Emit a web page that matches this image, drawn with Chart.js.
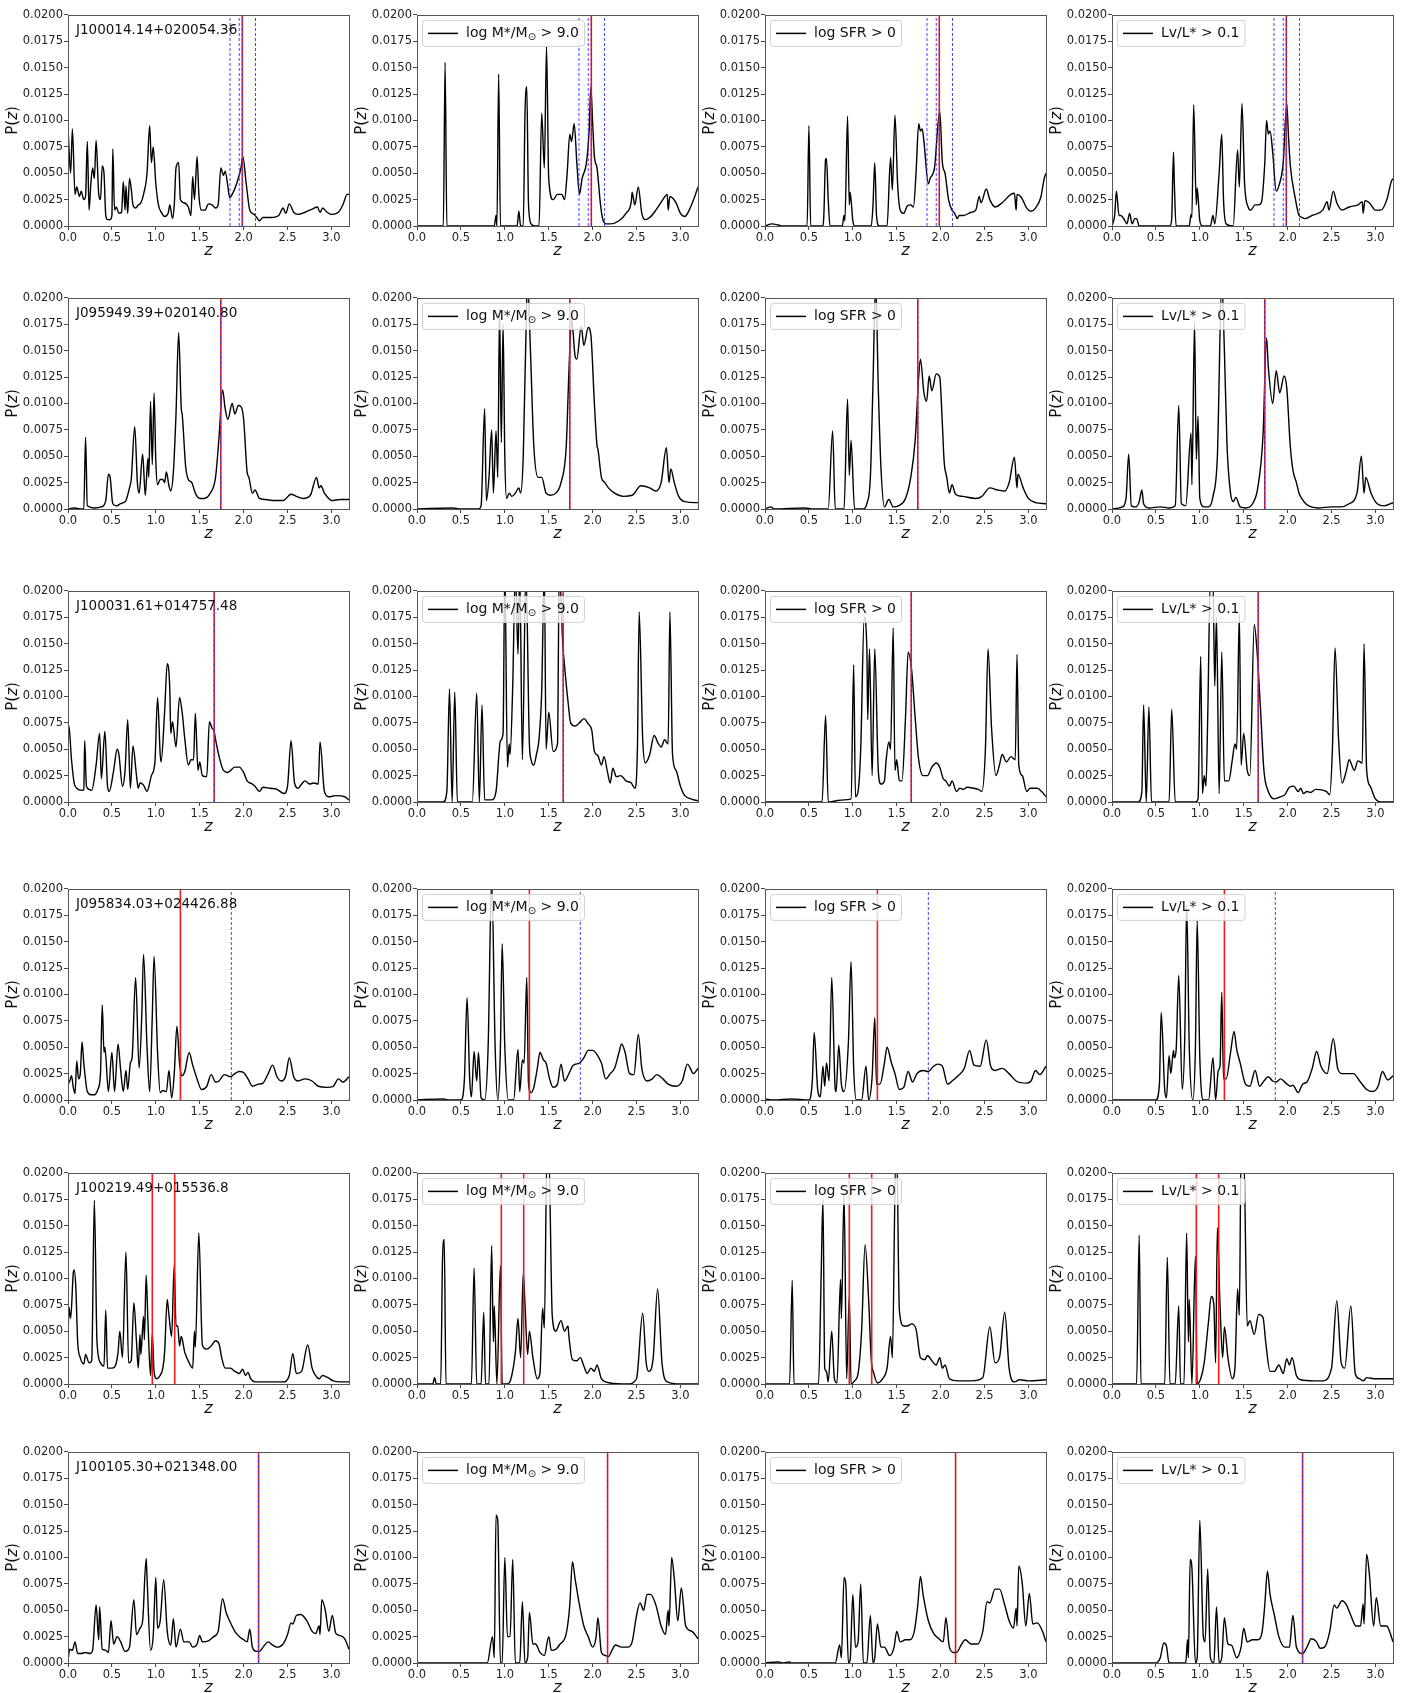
<!DOCTYPE html>
<html>
<head>
<meta charset="utf-8">
<script src="https://cdn.jsdelivr.net/npm/chart.js@4.4.0/dist/chart.umd.min.js"></script>
<style>
  body { margin: 0; background: #fff; }
  #page { position: relative; width: 1406px; height: 1693px; }
  #page canvas { position: absolute; }
</style>
</head>
<body>
<div id="page"></div>
<script>
// axis ticks
var zTicks = [0, 0.5, 1.0, 1.5, 2.0, 2.5, 3.0];
var pTicks = [0, 0.0025, 0.005, 0.0075, 0.01, 0.0125, 0.015, 0.0175, 0.02];

var objectNames = ["J100014.14+020054.36", "J095949.39+020140.80", "J100031.61+014757.48",
  "J095834.03+024426.88", "J100219.49+015536.8", "J100105.30+021348.00"];
// legend text parts: [text, isSubscript]
var sampleLabels = [null,
  [["log M*/M", 0], ["\u2299", 1], [" > 9.0", 0]],
  [["log SFR > 0", 0]],
  [["Lv/L* > 0.1", 0]]];

// red solid = spectroscopic z, blue dashed = other estimates
var zRed = [[1.985], [1.74], [1.665], [1.28], [0.96, 1.215], [2.17]];
var zBlue = [[1.845, 1.95, 1.985, 2.135], [1.74], [1.665], [1.86], [], [2.17]];

// ---- row 1 : J100014.14+020054.36
var pz1All = [[0,0.0093],[0.03,0.005],[0.05,0.0092],[0.08,0.003],[0.1,0.0037],[0.13,0.0028],[0.15,0.0033],[0.18,0.0025],[0.2,0.0028],[0.22,0.008],[0.24,0.0015],[0.26,0.004],[0.28,0.0055],[0.3,0.0045],[0.32,0.0081],[0.35,0.003],[0.37,0.0025],[0.39,0.0057],[0.41,0.005],[0.43,0.001],[0.45,0.0006],[0.48,0.0006],[0.5,0.001],[0.51,0.0073],[0.53,0.0015],[0.55,0.0018],[0.58,0.0012],[0.61,0.0013],[0.63,0.0042],[0.65,0.0015],[0.66,0.0038],[0.68,0.0012],[0.7,0.0045],[0.72,0.0035],[0.74,0.002],[0.77,0.0017],[0.8,0.002],[0.83,0.0022],[0.86,0.003],[0.9,0.005],[0.93,0.0095],[0.95,0.006],[0.97,0.0075],[1.0,0.004],[1.03,0.002],[1.07,0.0012],[1.1,0.0009],[1.14,0.0012],[1.16,0.002],[1.19,0.0007],[1.21,0.002],[1.23,0.0055],[1.26,0.006],[1.28,0.0025],[1.32,0.0022],[1.37,0.0018],[1.4,0.001],[1.42,0.0047],[1.44,0.0025],[1.47,0.0066],[1.49,0.003],[1.52,0.0015],[1.56,0.0015],[1.6,0.0021],[1.64,0.002],[1.68,0.0017],[1.71,0.002],[1.74,0.0055],[1.77,0.0048],[1.79,0.0052],[1.82,0.0038],[1.84,0.0027],[1.87,0.003],[1.92,0.004],[1.97,0.0055],[1.99,0.0066],[2.03,0.004],[2.07,0.0015],[2.12,0.0011],[2.15,0.0008],[2.18,0.0005],[2.22,0.0008],[2.3,0.0008],[2.4,0.001],[2.45,0.0017],[2.48,0.0012],[2.52,0.0021],[2.57,0.0013],[2.62,0.0011],[2.7,0.0013],[2.78,0.0016],[2.84,0.0018],[2.87,0.0013],[2.9,0.0017],[2.95,0.0013],[3.0,0.0011],[3.08,0.0013],[3.13,0.002],[3.18,0.003],[3.2,0.003]];
var pz1Mass = [[0,0],[0.3,0],[0.32,0.0155],[0.34,0],[0.88,0],[0.9,0.001],[0.91,0],[0.93,0.0144],[0.95,0],[1.14,0],[1.16,0.0014],[1.18,0],[1.21,0],[1.23,0.0107],[1.25,0.0132],[1.27,0.002],[1.3,0.0002],[1.34,0],[1.39,0],[1.42,0.0107],[1.45,0.0055],[1.475,0.017],[1.5,0.0045],[1.55,0.0025],[1.6,0.003],[1.65,0.003],[1.68,0.0025],[1.71,0.005],[1.74,0.0087],[1.76,0.008],[1.79,0.0097],[1.82,0.006],[1.85,0.003],[1.88,0.0045],[1.93,0.006],[1.96,0.009],[1.98,0.0132],[2.0,0.0098],[2.02,0.0066],[2.05,0.0055],[2.09,0.002],[2.12,0.0005],[2.16,0.0002],[2.2,0.0002],[2.3,0.0005],[2.38,0.0012],[2.44,0.0023],[2.45,0.0032],[2.48,0.002],[2.52,0.0037],[2.56,0.0012],[2.6,0.0006],[2.65,0.0008],[2.72,0.0015],[2.8,0.0025],[2.85,0.003],[2.86,0.0015],[2.88,0.0028],[2.95,0.0022],[3.0,0.0012],[3.05,0.0009],[3.1,0.0015],[3.15,0.0025],[3.2,0.0037]];
var pz1Sfr = [[0,0],[0.08,0.0002],[0.15,0.0001],[0.2,0],[0.48,0],[0.5,0.0095],[0.52,0],[0.66,0],[0.67,0.001],[0.69,0.0063],[0.7,0.0064],[0.72,0.0025],[0.74,0],[0.88,0],[0.9,0.001],[0.91,0.0005],[0.94,0.0104],[0.96,0.002],[0.97,0.0032],[1.0,0.0005],[1.02,0],[1.21,0],[1.23,0.002],[1.25,0.006],[1.27,0.001],[1.3,0],[1.39,0],[1.43,0.0065],[1.45,0.0034],[1.48,0.0105],[1.51,0.004],[1.54,0.0015],[1.58,0.0012],[1.62,0.0019],[1.66,0.002],[1.69,0.0018],[1.72,0.005],[1.75,0.0097],[1.77,0.009],[1.79,0.0092],[1.81,0.008],[1.86,0.004],[1.88,0.0045],[1.93,0.0055],[1.99,0.0109],[2.02,0.006],[2.05,0.005],[2.09,0.0025],[2.13,0.0015],[2.16,0.0012],[2.19,0.0007],[2.21,0.001],[2.26,0.001],[2.35,0.0013],[2.4,0.0015],[2.44,0.0028],[2.46,0.0022],[2.52,0.0035],[2.56,0.0025],[2.62,0.0018],[2.7,0.0022],[2.8,0.003],[2.84,0.0031],[2.86,0.0015],[2.87,0.003],[2.92,0.0027],[2.98,0.0017],[3.03,0.0014],[3.08,0.0017],[3.14,0.0027],[3.18,0.0045],[3.2,0.005]];
var pz1Lum = [[0,0],[0.03,0.001],[0.05,0.0033],[0.08,0.001],[0.1,0.001],[0.14,0.0006],[0.17,0.0002],[0.2,0.0012],[0.23,0.0002],[0.26,0.0007],[0.28,0.0007],[0.31,0],[0.66,0],[0.68,0.0007],[0.7,0.007],[0.71,0.004],[0.73,0],[0.88,0],[0.9,0.0011],[0.91,0.0008],[0.93,0.0115],[0.96,0.002],[0.97,0.0036],[1.0,0.0005],[1.03,0],[1.12,0],[1.15,0.001],[1.17,0.0002],[1.22,0.005],[1.25,0.0087],[1.27,0.0025],[1.3,0.0002],[1.38,0],[1.43,0.0072],[1.45,0.0037],[1.48,0.0116],[1.51,0.004],[1.55,0.0018],[1.58,0.0015],[1.63,0.002],[1.67,0.002],[1.7,0.0022],[1.74,0.006],[1.76,0.01],[1.78,0.0087],[1.8,0.009],[1.83,0.007],[1.87,0.0033],[1.9,0.0038],[1.95,0.006],[1.99,0.0116],[2.01,0.0085],[2.03,0.0058],[2.09,0.0025],[2.13,0.001],[2.17,0.0008],[2.2,0.0007],[2.28,0.001],[2.4,0.0015],[2.45,0.0023],[2.47,0.0015],[2.52,0.0033],[2.56,0.0022],[2.62,0.0015],[2.7,0.0018],[2.8,0.002],[2.85,0.0023],[2.86,0.0012],[2.88,0.0024],[2.93,0.0022],[3.0,0.0015],[3.06,0.0015],[3.13,0.0025],[3.18,0.0042],[3.2,0.0045]];

// ---- row 2 : J095949.39+020140.80
var pz2All = [[0,0],[0.07,0.0001],[0.15,0],[0.18,0],[0.2,0.0068],[0.22,0.0003],[0.3,0.0001],[0.38,0.0002],[0.43,0.0008],[0.46,0.0033],[0.48,0.003],[0.51,0.0005],[0.55,0.0003],[0.6,0.0005],[0.63,0.0006],[0.66,0.0008],[0.7,0.002],[0.72,0.0028],[0.76,0.0078],[0.79,0.0025],[0.81,0.0015],[0.85,0.0052],[0.88,0.0013],[0.91,0.0048],[0.92,0.003],[0.94,0.0102],[0.96,0.0042],[0.98,0.011],[1.0,0.0045],[1.02,0.0023],[1.05,0.0028],[1.08,0.0028],[1.1,0.0025],[1.12,0.0035],[1.15,0.0022],[1.17,0.0017],[1.2,0.0035],[1.23,0.009],[1.26,0.0167],[1.29,0.0095],[1.3,0.009],[1.34,0.004],[1.37,0.0028],[1.41,0.0025],[1.45,0.0015],[1.5,0.001],[1.55,0.001],[1.62,0.0015],[1.68,0.003],[1.72,0.0068],[1.76,0.0113],[1.79,0.0095],[1.82,0.0085],[1.87,0.01],[1.9,0.009],[1.94,0.0098],[1.97,0.0097],[2.0,0.0085],[2.04,0.0035],[2.06,0.003],[2.1,0.0015],[2.13,0.0018],[2.18,0.001],[2.25,0.0009],[2.35,0.0008],[2.45,0.0008],[2.54,0.0014],[2.6,0.0012],[2.68,0.001],[2.76,0.0013],[2.83,0.003],[2.86,0.002],[2.88,0.0022],[2.92,0.0015],[2.97,0.001],[3.0,0.0008],[3.1,0.0009],[3.2,0.0009]];
var pz2Mass = [[0,0],[0.4,0.0001],[0.5,0],[0.7,0],[0.73,0.0003],[0.77,0.0095],[0.79,0.0008],[0.82,0.003],[0.85,0.0075],[0.87,0.0015],[0.9,0.0074],[0.92,0.003],[0.94,0.019],[0.96,0.0063],[0.98,0.0175],[1.0,0.005],[1.02,0.001],[1.05,0.0015],[1.08,0.0012],[1.12,0.0015],[1.16,0.002],[1.18,0.0015],[1.21,0.005],[1.25,0.02],[1.26,0.0215],[1.29,0.0155],[1.33,0.006],[1.38,0.003],[1.42,0.003],[1.47,0.0015],[1.52,0.0013],[1.58,0.0015],[1.64,0.0025],[1.7,0.006],[1.73,0.013],[1.76,0.018],[1.8,0.0145],[1.82,0.0142],[1.87,0.0173],[1.9,0.0155],[1.95,0.0172],[1.98,0.0165],[2.02,0.01],[2.05,0.006],[2.06,0.0057],[2.1,0.003],[2.14,0.0025],[2.18,0.002],[2.25,0.0015],[2.35,0.0012],[2.45,0.0013],[2.55,0.0022],[2.65,0.002],[2.72,0.0017],[2.78,0.0025],[2.84,0.0058],[2.87,0.0025],[2.89,0.0038],[2.93,0.0025],[2.98,0.0012],[3.05,0.0007],[3.2,0.0006]];
var pz2Sfr = [[0,0],[0.07,0.0002],[0.1,0],[0.45,0.0001],[0.55,0],[0.72,0],[0.77,0.0074],[0.8,0],[0.9,0],[0.94,0.0104],[0.96,0.0032],[0.98,0.0065],[1.02,0],[1.12,0],[1.16,0.0005],[1.2,0.003],[1.23,0.012],[1.26,0.0215],[1.29,0.0115],[1.32,0.004],[1.36,0.0002],[1.41,0.0009],[1.46,0.0002],[1.52,0.0003],[1.6,0.001],[1.66,0.003],[1.71,0.0065],[1.75,0.0125],[1.77,0.0142],[1.81,0.011],[1.84,0.0102],[1.87,0.0126],[1.9,0.0112],[1.95,0.0128],[1.99,0.0125],[2.02,0.008],[2.04,0.0045],[2.07,0.003],[2.1,0.0015],[2.13,0.0023],[2.17,0.0014],[2.25,0.0012],[2.4,0.001],[2.47,0.0012],[2.56,0.002],[2.65,0.0018],[2.73,0.0017],[2.78,0.0025],[2.84,0.0049],[2.87,0.002],[2.88,0.0033],[2.94,0.002],[3.0,0.001],[3.08,0.0006],[3.2,0.0005]];
var pz2Lum = [[0,0],[0.12,0.0002],[0.16,0.001],[0.19,0.0052],[0.22,0.0003],[0.27,0.0002],[0.31,0.0007],[0.34,0.0018],[0.36,0.0005],[0.42,0.0001],[0.55,0.0002],[0.65,0.0001],[0.72,0.0003],[0.76,0.0098],[0.79,0.0005],[0.84,0.0003],[0.9,0.0072],[0.91,0.0023],[0.94,0.0177],[0.96,0.0047],[0.98,0.0088],[1.0,0.001],[1.05,0.0002],[1.1,0.0002],[1.15,0.0012],[1.2,0.005],[1.25,0.0215],[1.28,0.015],[1.31,0.006],[1.35,0.0015],[1.38,0.0007],[1.41,0.0011],[1.46,0.0002],[1.52,0.0001],[1.6,0.0005],[1.66,0.002],[1.72,0.007],[1.76,0.0162],[1.78,0.0135],[1.83,0.01],[1.87,0.0131],[1.91,0.011],[1.96,0.0126],[1.99,0.0115],[2.03,0.006],[2.06,0.0037],[2.1,0.0025],[2.13,0.0015],[2.16,0.001],[2.22,0.0004],[2.35,0.0001],[2.5,0.0002],[2.6,0.0002],[2.7,0.0005],[2.79,0.0015],[2.84,0.005],[2.87,0.0015],[2.89,0.003],[2.95,0.0015],[3.02,0.0005],[3.1,0.0003],[3.2,0.0006]];

// ---- row 3 : J100031.61+014757.48
var pz3All = [[0,0.007],[0.01,0.0072],[0.04,0.004],[0.07,0.0018],[0.1,0.0013],[0.16,0.0011],[0.18,0.0012],[0.19,0.0058],[0.21,0.0015],[0.24,0.0012],[0.27,0.0011],[0.32,0.0035],[0.36,0.0065],[0.38,0.0022],[0.42,0.0067],[0.45,0.0015],[0.47,0.001],[0.52,0.003],[0.56,0.005],[0.58,0.0045],[0.62,0.0015],[0.65,0.003],[0.68,0.0078],[0.71,0.0013],[0.74,0.0053],[0.78,0.0025],[0.8,0.0013],[0.82,0.0018],[0.86,0.0016],[0.9,0.001],[0.95,0.0025],[0.99,0.0038],[1.02,0.0099],[1.05,0.0045],[1.06,0.0038],[1.1,0.0085],[1.13,0.0131],[1.16,0.0105],[1.17,0.0065],[1.19,0.0076],[1.23,0.0052],[1.27,0.0099],[1.3,0.0085],[1.33,0.006],[1.37,0.0035],[1.4,0.004],[1.43,0.004],[1.45,0.0084],[1.48,0.003],[1.5,0.0038],[1.53,0.0025],[1.58,0.0024],[1.61,0.0076],[1.64,0.007],[1.66,0.0068],[1.69,0.0055],[1.73,0.004],[1.77,0.003],[1.82,0.0028],[1.9,0.0033],[1.95,0.0033],[2.0,0.0028],[2.04,0.002],[2.1,0.0017],[2.13,0.0015],[2.18,0.001],[2.22,0.0014],[2.3,0.0013],[2.38,0.0012],[2.46,0.0008],[2.5,0.0015],[2.54,0.0058],[2.58,0.0018],[2.62,0.0013],[2.66,0.0017],[2.7,0.002],[2.75,0.0017],[2.8,0.0018],[2.85,0.0017],[2.87,0.0057],[2.92,0.001],[2.97,0.0005],[3.05,0.0006],[3.15,0.0005],[3.2,0.0002]];
var pz3Mass = [[0,0],[0.3,0],[0.34,0.001],[0.37,0.0107],[0.4,0],[0.43,0.0104],[0.46,0],[0.63,0],[0.68,0.0103],[0.71,0],[0.74,0.0092],[0.77,0.0002],[0.85,0.0002],[0.9,0.001],[0.95,0.0058],[0.98,0.0065],[1.0,0.022],[1.03,0.0033],[1.05,0.0055],[1.06,0.0045],[1.09,0.011],[1.12,0.022],[1.15,0.014],[1.17,0.022],[1.2,0.004],[1.24,0.022],[1.28,0.0055],[1.3,0.004],[1.33,0.0035],[1.36,0.0045],[1.39,0.006],[1.42,0.0105],[1.45,0.022],[1.47,0.005],[1.5,0.0085],[1.55,0.0048],[1.6,0.0055],[1.62,0.022],[1.66,0.015],[1.69,0.012],[1.72,0.0095],[1.75,0.0075],[1.8,0.0072],[1.85,0.0075],[1.9,0.0079],[1.95,0.0074],[1.99,0.0068],[2.02,0.0048],[2.06,0.0044],[2.1,0.0035],[2.13,0.0043],[2.17,0.0028],[2.2,0.0018],[2.23,0.0032],[2.27,0.0024],[2.32,0.0025],[2.38,0.002],[2.44,0.0018],[2.48,0.0013],[2.51,0.005],[2.53,0.018],[2.57,0.006],[2.6,0.0037],[2.65,0.0045],[2.7,0.0063],[2.75,0.0055],[2.78,0.0052],[2.82,0.0059],[2.86,0.0055],[2.88,0.018],[2.91,0.0045],[2.95,0.003],[3.0,0.0015],[3.05,0.0006],[3.12,0.0003],[3.2,0.0001]];
var pz3Sfr = [[0,0],[0.65,0],[0.69,0.0082],[0.72,0],[0.8,0.0001],[0.9,0.0002],[0.98,0.0003],[1.01,0.013],[1.03,0.0005],[1.06,0.001],[1.09,0.005],[1.13,0.0175],[1.16,0.0145],[1.17,0.0078],[1.19,0.0145],[1.22,0.0025],[1.25,0.0145],[1.29,0.003],[1.32,0.0017],[1.36,0.002],[1.38,0.004],[1.41,0.0057],[1.43,0.005],[1.46,0.0165],[1.48,0.003],[1.5,0.004],[1.53,0.002],[1.56,0.002],[1.6,0.008],[1.63,0.0142],[1.67,0.0125],[1.71,0.008],[1.75,0.004],[1.8,0.0025],[1.85,0.0025],[1.9,0.0033],[1.95,0.0037],[1.99,0.0033],[2.03,0.0022],[2.06,0.002],[2.1,0.0015],[2.13,0.002],[2.18,0.001],[2.22,0.0013],[2.26,0.0012],[2.3,0.0014],[2.38,0.0013],[2.43,0.0012],[2.47,0.001],[2.51,0.005],[2.54,0.0145],[2.58,0.007],[2.63,0.0025],[2.67,0.0035],[2.7,0.0045],[2.75,0.0038],[2.8,0.0043],[2.85,0.004],[2.87,0.014],[2.89,0.0035],[2.93,0.0025],[2.98,0.001],[3.02,0.0013],[3.1,0.0013],[3.15,0.001],[3.2,0.0005]];
var pz3Lum = [[0,0],[0.3,0],[0.34,0.001],[0.36,0.0092],[0.39,0],[0.42,0.009],[0.45,0],[0.65,0],[0.68,0.0088],[0.72,0],[0.95,0],[0.98,0.0003],[1.01,0.0138],[1.03,0.0008],[1.05,0.0025],[1.07,0.0015],[1.09,0.008],[1.12,0.021],[1.15,0.021],[1.17,0.011],[1.19,0.0175],[1.22,0.0008],[1.25,0.0142],[1.28,0.002],[1.33,0.002],[1.37,0.004],[1.4,0.0055],[1.42,0.005],[1.45,0.0178],[1.47,0.0035],[1.5,0.0065],[1.54,0.003],[1.57,0.0025],[1.62,0.0168],[1.65,0.0145],[1.69,0.009],[1.73,0.003],[1.78,0.001],[1.85,0.0003],[1.92,0.0005],[1.97,0.0007],[2.02,0.0014],[2.07,0.0015],[2.12,0.001],[2.15,0.0013],[2.18,0.0008],[2.22,0.001],[2.26,0.0009],[2.32,0.0012],[2.44,0.001],[2.48,0.0007],[2.51,0.005],[2.54,0.0146],[2.58,0.006],[2.62,0.0018],[2.67,0.003],[2.7,0.004],[2.76,0.003],[2.8,0.0039],[2.85,0.0037],[2.87,0.015],[2.9,0.003],[2.94,0.0015],[3.0,0.0003],[3.08,0],[3.2,0]];

// ---- row 4 : J095834.03+024426.88
var pz4All = [[0,0.0015],[0.02,0.0018],[0.04,0.0023],[0.06,0.0012],[0.08,0.0006],[0.1,0.0037],[0.12,0.002],[0.14,0.0025],[0.16,0.0055],[0.18,0.0035],[0.22,0.0008],[0.26,0.0005],[0.3,0.0005],[0.34,0.001],[0.37,0.0025],[0.39,0.009],[0.41,0.0045],[0.42,0.005],[0.46,0.0008],[0.5,0.0045],[0.53,0.0008],[0.57,0.0053],[0.6,0.0028],[0.63,0.0008],[0.66,0.0028],[0.68,0.001],[0.71,0.0035],[0.73,0.004],[0.77,0.0116],[0.81,0.003],[0.84,0.008],[0.86,0.0138],[0.9,0.005],[0.93,0.0008],[0.96,0.008],[0.98,0.0136],[1.02,0.0045],[1.05,0.0007],[1.08,0.0009],[1.12,0.0008],[1.15,0.0028],[1.18,0.0002],[1.21,0.0025],[1.24,0.007],[1.27,0.0035],[1.3,0.0023],[1.33,0.0027],[1.38,0.0045],[1.42,0.0033],[1.47,0.002],[1.52,0.001],[1.58,0.0013],[1.63,0.0024],[1.68,0.0017],[1.72,0.0018],[1.78,0.0024],[1.85,0.0022],[1.9,0.0025],[1.95,0.0027],[2.0,0.0026],[2.05,0.002],[2.1,0.0013],[2.17,0.0015],[2.22,0.0016],[2.28,0.0025],[2.33,0.0033],[2.38,0.0022],[2.43,0.0018],[2.48,0.0023],[2.52,0.004],[2.57,0.0022],[2.62,0.0018],[2.7,0.002],[2.78,0.0018],[2.85,0.0013],[2.95,0.0012],[3.02,0.0013],[3.08,0.002],[3.13,0.0017],[3.2,0.0022]];
var pz4Mass = [[0,0],[0.3,0.0001],[0.35,0],[0.5,0],[0.54,0.002],[0.57,0.0097],[0.6,0.002],[0.62,0.0003],[0.65,0.0046],[0.68,0.0018],[0.7,0.0045],[0.73,0.0002],[0.77,0],[0.81,0.005],[0.85,0.021],[0.89,0.005],[0.92,0],[0.95,0.005],[0.97,0.0148],[1.0,0.005],[1.04,0],[1.1,0],[1.15,0.0048],[1.17,0.0008],[1.2,0.0038],[1.22,0.0035],[1.25,0.0116],[1.27,0.0015],[1.3,0.0007],[1.33,0.0012],[1.37,0.003],[1.4,0.0045],[1.44,0.0038],[1.47,0.0035],[1.51,0.002],[1.55,0.0012],[1.6,0.0015],[1.64,0.0034],[1.68,0.0018],[1.73,0.0025],[1.78,0.0033],[1.85,0.0035],[1.9,0.004],[1.95,0.0047],[2.0,0.0047],[2.05,0.0043],[2.1,0.0035],[2.15,0.002],[2.2,0.0025],[2.25,0.003],[2.3,0.0045],[2.33,0.0053],[2.37,0.0045],[2.42,0.0025],[2.47,0.0024],[2.52,0.0062],[2.56,0.003],[2.62,0.0018],[2.68,0.002],[2.73,0.0024],[2.8,0.002],[2.86,0.0015],[2.95,0.0013],[3.02,0.0018],[3.08,0.0034],[3.15,0.0025],[3.2,0.003]];
var pz4Sfr = [[0,0.0001],[0.1,0],[0.3,0.0001],[0.5,0],[0.54,0.002],[0.56,0.0064],[0.6,0.001],[0.63,0.0003],[0.66,0.0032],[0.68,0.0013],[0.7,0.0035],[0.73,0.0018],[0.76,0.0116],[0.8,0.001],[0.81,0.0008],[0.84,0.0052],[0.87,0.0015],[0.9,0.0008],[0.95,0.0055],[0.98,0.0131],[1.01,0.003],[1.04,0],[1.1,0],[1.15,0.0032],[1.18,0],[1.22,0.0022],[1.25,0.0078],[1.27,0.0015],[1.31,0.0015],[1.36,0.0035],[1.39,0.005],[1.44,0.0035],[1.48,0.0025],[1.53,0.001],[1.58,0.0012],[1.63,0.0027],[1.68,0.0017],[1.73,0.0025],[1.8,0.0028],[1.86,0.0027],[1.92,0.0032],[1.97,0.0034],[2.02,0.0032],[2.08,0.0015],[2.13,0.0018],[2.2,0.0023],[2.27,0.003],[2.33,0.0047],[2.38,0.0033],[2.45,0.0032],[2.52,0.0057],[2.57,0.0032],[2.62,0.0028],[2.7,0.003],[2.78,0.0025],[2.86,0.0018],[2.98,0.0016],[3.03,0.0018],[3.08,0.0028],[3.13,0.0024],[3.2,0.0032]];
var pz4Lum = [[0,0],[0.3,0],[0.5,0],[0.54,0.0015],[0.56,0.0083],[0.6,0.001],[0.62,0.0002],[0.65,0.0042],[0.67,0.0025],[0.7,0.0047],[0.71,0.004],[0.73,0.0047],[0.76,0.0118],[0.8,0.001],[0.83,0.0065],[0.85,0.0185],[0.88,0.005],[0.92,0],[0.95,0.005],[0.97,0.017],[1.0,0.004],[1.04,0],[1.1,0],[1.15,0.004],[1.18,0],[1.21,0.0028],[1.23,0.0032],[1.25,0.0102],[1.27,0.002],[1.3,0.002],[1.35,0.0045],[1.39,0.0065],[1.42,0.0048],[1.46,0.0035],[1.52,0.0015],[1.57,0.0013],[1.63,0.0028],[1.68,0.0013],[1.73,0.0018],[1.78,0.0022],[1.83,0.0018],[1.87,0.0017],[1.92,0.002],[1.98,0.0016],[2.03,0.0013],[2.06,0.0014],[2.12,0.0007],[2.17,0.0015],[2.22,0.0017],[2.28,0.003],[2.33,0.0046],[2.38,0.0032],[2.45,0.0025],[2.52,0.0058],[2.57,0.003],[2.62,0.0025],[2.7,0.0025],[2.75,0.0025],[2.82,0.0018],[2.9,0.001],[2.97,0.0008],[3.03,0.0013],[3.08,0.0027],[3.14,0.0019],[3.2,0.0023]];

// ---- row 5 : J100219.49+015536.8
var pz5All = [[0,0.004],[0.01,0.0073],[0.03,0.0062],[0.06,0.0105],[0.07,0.0108],[0.09,0.009],[0.11,0.004],[0.14,0.0025],[0.18,0.0019],[0.2,0.0028],[0.24,0.002],[0.27,0.0022],[0.3,0.0174],[0.33,0.004],[0.37,0.002],[0.41,0.0017],[0.43,0.007],[0.45,0.0015],[0.5,0.0015],[0.53,0.0016],[0.57,0.003],[0.59,0.005],[0.62,0.0025],[0.66,0.0125],[0.69,0.002],[0.72,0.0022],[0.75,0.0077],[0.78,0.004],[0.8,0.0015],[0.82,0.0047],[0.83,0.0028],[0.86,0.0064],[0.87,0.0042],[0.89,0.0103],[0.91,0.006],[0.94,0.0008],[0.96,0.0048],[0.98,0.0012],[1.01,0.0005],[1.04,0.0007],[1.08,0.0015],[1.1,0.003],[1.13,0.008],[1.15,0.0065],[1.18,0.0045],[1.21,0.0113],[1.23,0.0055],[1.25,0.0055],[1.27,0.0036],[1.29,0.0045],[1.33,0.003],[1.38,0.002],[1.42,0.0015],[1.44,0.005],[1.45,0.0035],[1.49,0.0143],[1.53,0.0037],[1.58,0.0033],[1.63,0.0036],[1.68,0.0041],[1.72,0.0038],[1.75,0.0025],[1.79,0.0015],[1.85,0.0015],[1.9,0.0012],[1.95,0.001],[1.99,0.0014],[2.02,0.0008],[2.05,0.0011],[2.08,0.0005],[2.13,0.0002],[2.3,0.0002],[2.45,0.0002],[2.52,0.0008],[2.56,0.0029],[2.6,0.001],[2.66,0.0012],[2.73,0.0037],[2.78,0.0015],[2.82,0.0008],[2.86,0.0005],[2.9,0.0008],[2.96,0.0006],[3.02,0.0003],[3.1,0.0002],[3.2,0.0002]];
var pz5Mass = [[0,0],[0.18,0],[0.2,0.0006],[0.22,0],[0.27,0],[0.29,0.0115],[0.31,0.0137],[0.33,0],[0.62,0],[0.65,0.011],[0.68,0],[0.73,0],[0.76,0.0068],[0.78,0],[0.82,0],[0.85,0.0131],[0.87,0.004],[0.88,0.0074],[0.91,0],[0.95,0.0112],[0.97,0],[1.03,0],[1.07,0.0005],[1.12,0.003],[1.15,0.0062],[1.18,0.0025],[1.21,0.0105],[1.23,0.0075],[1.26,0.0028],[1.28,0.005],[1.32,0.0025],[1.37,0.0005],[1.4,0.001],[1.43,0.0072],[1.45,0.0053],[1.48,0.022],[1.5,0.022],[1.54,0.0065],[1.58,0.005],[1.64,0.006],[1.68,0.005],[1.72,0.0055],[1.73,0.0045],[1.77,0.0023],[1.82,0.0022],[1.86,0.0025],[1.9,0.0017],[1.94,0.001],[1.98,0.0015],[2.02,0.0012],[2.05,0.0018],[2.1,0.0005],[2.2,0.0001],[2.4,0],[2.5,0.0005],[2.57,0.0067],[2.61,0.002],[2.64,0.0012],[2.69,0.0025],[2.74,0.009],[2.79,0.002],[2.85,0.0002],[3.0,0],[3.2,0]];
var pz5Sfr = [[0,0],[0.28,0],[0.31,0.0098],[0.33,0],[0.61,0],[0.64,0.0105],[0.66,0.0175],[0.68,0.0015],[0.7,0.0012],[0.72,0.0002],[0.76,0.005],[0.79,0.0005],[0.82,0.0001],[0.86,0.0099],[0.87,0.0062],[0.9,0.018],[0.93,0.0005],[0.96,0.0084],[0.98,0],[1.02,0.0003],[1.06,0.001],[1.1,0.005],[1.14,0.0132],[1.18,0.008],[1.21,0.0023],[1.24,0.001],[1.28,0.0001],[1.34,0.0005],[1.39,0.0015],[1.43,0.0045],[1.45,0.0025],[1.49,0.022],[1.5,0.022],[1.53,0.007],[1.58,0.0055],[1.62,0.0055],[1.67,0.0057],[1.72,0.0052],[1.77,0.0025],[1.82,0.0023],[1.85,0.0027],[1.9,0.0022],[1.95,0.0018],[1.99,0.0025],[2.02,0.0015],[2.05,0.0018],[2.1,0.0005],[2.2,0.0003],[2.35,0.0003],[2.48,0.0006],[2.56,0.0054],[2.62,0.002],[2.67,0.0025],[2.73,0.0068],[2.78,0.0015],[2.84,0.0002],[2.9,0.0004],[3.0,0.0003],[3.2,0.0004]];
var pz5Lum = [[0,0],[0.28,0],[0.31,0.0141],[0.33,0],[0.6,0],[0.63,0.012],[0.66,0],[0.72,0],[0.76,0.0074],[0.78,0],[0.82,0],[0.85,0.0143],[0.87,0.004],[0.88,0.008],[0.91,0],[0.95,0.0121],[0.97,0],[1.01,0.0005],[1.05,0.002],[1.1,0.006],[1.13,0.0083],[1.16,0.0075],[1.18,0.002],[1.2,0.0148],[1.23,0.0075],[1.26,0.0025],[1.28,0.0054],[1.32,0.0025],[1.37,0.0005],[1.4,0.0015],[1.43,0.009],[1.45,0.0065],[1.47,0.022],[1.5,0.022],[1.54,0.0055],[1.57,0.006],[1.62,0.0047],[1.67,0.0066],[1.72,0.0063],[1.75,0.004],[1.8,0.0012],[1.85,0.0012],[1.9,0.0018],[1.95,0.001],[1.99,0.0024],[2.02,0.0018],[2.05,0.0025],[2.1,0.0008],[2.15,0.0004],[2.3,0.0003],[2.4,0.0003],[2.5,0.0015],[2.56,0.0079],[2.61,0.002],[2.65,0.0015],[2.72,0.0074],[2.77,0.001],[2.82,0.0005],[2.86,0.0003],[2.9,0.0006],[3.0,0.0005],[3.2,0.0005]];

// ---- row 6 : J100105.30+021348.00
var pz6All = [[0,0.0002],[0.02,0.0013],[0.05,0.0012],[0.08,0.002],[0.11,0.0009],[0.15,0.0009],[0.2,0.001],[0.25,0.0009],[0.28,0.0012],[0.32,0.0055],[0.35,0.0022],[0.36,0.0053],[0.39,0.0013],[0.43,0.0012],[0.46,0.001],[0.49,0.004],[0.52,0.0018],[0.56,0.0025],[0.6,0.002],[0.65,0.0011],[0.7,0.0015],[0.75,0.006],[0.78,0.0027],[0.82,0.0033],[0.85,0.004],[0.89,0.0099],[0.9,0.0081],[0.94,0.0012],[0.97,0.0025],[1.0,0.0081],[1.02,0.0033],[1.05,0.004],[1.09,0.0079],[1.13,0.003],[1.17,0.0017],[1.2,0.0042],[1.23,0.0015],[1.28,0.0032],[1.32,0.002],[1.38,0.002],[1.42,0.0015],[1.47,0.0018],[1.5,0.0026],[1.53,0.002],[1.6,0.0021],[1.66,0.0025],[1.71,0.003],[1.76,0.0061],[1.8,0.0048],[1.84,0.004],[1.9,0.003],[1.95,0.0025],[2.0,0.0022],[2.04,0.002],[2.07,0.0032],[2.1,0.0015],[2.15,0.0011],[2.18,0.0011],[2.23,0.0016],[2.28,0.002],[2.33,0.0017],[2.38,0.0015],[2.45,0.0018],[2.5,0.0027],[2.54,0.0038],[2.56,0.0037],[2.6,0.0045],[2.65,0.0046],[2.72,0.004],[2.78,0.003],[2.82,0.0028],[2.86,0.0035],[2.87,0.0027],[2.89,0.006],[2.93,0.005],[2.97,0.003],[3.01,0.0045],[3.05,0.0028],[3.1,0.0026],[3.15,0.0023],[3.2,0.0013]];
var pz6Mass = [[0,0],[0.8,0],[0.86,0.0025],[0.88,0.0005],[0.9,0.014],[0.92,0.0135],[0.95,0],[0.97,0],[1.0,0.01],[1.03,0.0025],[1.06,0.0025],[1.09,0.0098],[1.12,0],[1.17,0],[1.2,0.0058],[1.23,0],[1.26,0.0005],[1.28,0.0048],[1.32,0.0018],[1.35,0.0018],[1.4,0.001],[1.45,0.0007],[1.5,0.0025],[1.53,0.0012],[1.58,0.0013],[1.63,0.0018],[1.7,0.0028],[1.74,0.0055],[1.77,0.0096],[1.8,0.008],[1.85,0.0055],[1.9,0.0035],[1.95,0.0025],[2.0,0.0015],[2.04,0.0025],[2.06,0.0043],[2.1,0.001],[2.15,0.0007],[2.18,0.0006],[2.22,0.0012],[2.26,0.0017],[2.33,0.0015],[2.4,0.0015],[2.45,0.002],[2.5,0.0045],[2.54,0.0057],[2.58,0.005],[2.62,0.0065],[2.66,0.0065],[2.72,0.0055],[2.78,0.0035],[2.83,0.0027],[2.86,0.005],[2.87,0.0035],[2.9,0.01],[2.93,0.008],[2.97,0.004],[3.01,0.0071],[3.06,0.0035],[3.13,0.003],[3.2,0.0023]];
var pz6Sfr = [[0,0],[0.15,0.0001],[0.2,0],[0.28,0.0001],[0.3,0],[0.8,0],[0.85,0.0017],[0.87,0.0005],[0.9,0.0081],[0.92,0.0075],[0.95,0],[0.97,0.0003],[1.0,0.0065],[1.03,0.0015],[1.06,0.002],[1.09,0.0075],[1.12,0],[1.16,0],[1.2,0.0045],[1.23,0],[1.25,0.0005],[1.28,0.0037],[1.32,0.0015],[1.36,0.0015],[1.42,0.0007],[1.47,0.0015],[1.5,0.003],[1.54,0.002],[1.6,0.0022],[1.65,0.0022],[1.7,0.003],[1.74,0.0055],[1.77,0.0082],[1.8,0.0065],[1.86,0.004],[1.92,0.0028],[1.98,0.0023],[2.03,0.002],[2.06,0.0043],[2.1,0.0015],[2.15,0.001],[2.18,0.001],[2.24,0.0018],[2.28,0.0022],[2.35,0.0018],[2.42,0.0018],[2.48,0.003],[2.53,0.0058],[2.56,0.0057],[2.62,0.007],[2.67,0.007],[2.73,0.0055],[2.78,0.004],[2.83,0.0033],[2.86,0.0052],[2.87,0.0035],[2.89,0.0092],[2.93,0.0075],[2.97,0.0035],[3.01,0.0066],[3.05,0.0037],[3.1,0.0038],[3.16,0.003],[3.2,0.002]];
var pz6Lum = [[0,0],[0.5,0],[0.55,0.0005],[0.59,0.0019],[0.62,0.0016],[0.65,0],[0.84,0],[0.86,0.0022],[0.87,0.0005],[0.89,0.0098],[0.91,0.009],[0.95,0],[0.97,0.0005],[1.0,0.0135],[1.04,0.0025],[1.06,0.002],[1.09,0.0089],[1.12,0.0005],[1.16,0],[1.19,0.0053],[1.22,0],[1.25,0.0005],[1.28,0.0043],[1.32,0.0018],[1.36,0.0017],[1.42,0.0005],[1.47,0.0015],[1.5,0.0033],[1.54,0.002],[1.6,0.0022],[1.66,0.0022],[1.71,0.003],[1.74,0.0055],[1.77,0.0087],[1.8,0.0065],[1.85,0.0045],[1.9,0.0025],[1.97,0.0015],[2.02,0.0015],[2.06,0.0045],[2.1,0.0015],[2.17,0.0009],[2.22,0.0015],[2.27,0.0023],[2.33,0.002],[2.37,0.0014],[2.42,0.0015],[2.48,0.003],[2.53,0.0055],[2.56,0.0052],[2.62,0.0059],[2.67,0.0055],[2.72,0.0045],[2.78,0.0035],[2.83,0.0035],[2.86,0.0056],[2.87,0.0037],[2.9,0.0103],[2.93,0.0085],[2.98,0.0035],[3.01,0.0062],[3.06,0.0035],[3.13,0.0035],[3.16,0.003],[3.2,0.002]];

var rowCurves = [
  [pz1All, pz1Mass, pz1Sfr, pz1Lum],
  [pz2All, pz2Mass, pz2Sfr, pz2Lum],
  [pz3All, pz3Mass, pz3Sfr, pz3Lum],
  [pz4All, pz4Mass, pz4Sfr, pz4Lum],
  [pz5All, pz5Mass, pz5Sfr, pz5Lum],
  [pz6All, pz6Mass, pz6Sfr, pz6Lum]
];

// page geometry (plot area corners in page pixels)
var colLeft = [68, 417, 765, 1112];
var rowTop = [13, 296, 589, 887, 1171, 1450];
var plotW = 281, plotH = 213;
var axisW = 66, axisH = 40, padTop = 6, padRight = 6;
var FONT = "'DejaVu Sans', sans-serif";

var page = document.getElementById("page");

var panelDecor = {
  id: "panelDecor",
  afterDatasetsDraw: function (chart) {
    var ctx = chart.ctx, a = chart.chartArea;
    var o = chart.options.plugins.panelDecor;
    ctx.save();
    // frame
    ctx.strokeStyle = "#555";
    ctx.lineWidth = 1;
    ctx.strokeRect(Math.round(a.left) + 0.5, Math.round(a.top) + 0.5,
      Math.round(a.right - a.left), Math.round(a.bottom - a.top));
    ctx.textBaseline = "middle";
    ctx.fillStyle = "#111";
    if (o.name) {
      ctx.font = "13.5px " + FONT;
      ctx.fillText(o.name, a.left + 8, a.top + 16);
    }
    if (o.label) {
      var size = 14, sub = 10;
      var w = 0;
      o.label.forEach(function (p) {
        ctx.font = (p[1] ? sub : size) + "px " + FONT;
        w += ctx.measureText(p[0]).width;
      });
      var bx = a.left + 5, by = a.top + 5, bw = w + 49, bh = 26;
      ctx.beginPath();
      ctx.roundRect(bx + 0.5, by + 0.5, bw, bh, 3);
      ctx.fillStyle = "rgba(255,255,255,0.8)";
      ctx.fill();
      ctx.strokeStyle = "#d0d0d0";
      ctx.stroke();
      var cy = by + bh / 2 + 0.5;
      ctx.beginPath();
      ctx.moveTo(bx + 6, cy);
      ctx.lineTo(bx + 36, cy);
      ctx.strokeStyle = "#000";
      ctx.lineWidth = 1.5;
      ctx.stroke();
      var tx = bx + 44;
      ctx.fillStyle = "#111";
      o.label.forEach(function (p) {
        ctx.font = (p[1] ? sub : size) + "px " + FONT;
        ctx.fillText(p[0], tx, p[1] ? cy + 4 : cy);
        tx += ctx.measureText(p[0]).width;
      });
    }
    // y axis title P(z) with italic z
    ctx.translate(a.left - 55, (a.top + a.bottom) / 2);
    ctx.rotate(-Math.PI / 2);
    var parts = [["P(", ""], ["z", "italic "], [")", ""]];
    var total = 0;
    parts.forEach(function (p) { ctx.font = p[1] + "15px " + FONT; total += ctx.measureText(p[0]).width; });
    var x0 = -total / 2;
    ctx.fillStyle = "#111";
    parts.forEach(function (p) {
      ctx.font = p[1] + "15px " + FONT;
      ctx.fillText(p[0], x0, 0);
      x0 += ctx.measureText(p[0]).width;
    });
    ctx.restore();
  }
};

function vline(z, color, width, dash) {
  return {
    data: [{ x: z, y: 0 }, { x: z, y: 0.02 }],
    borderColor: color, borderWidth: width, borderDash: dash,
    pointRadius: 0, fill: false
  };
}

function makePanel(r, c) {
  var W = axisW + plotW + padRight, H = padTop + plotH + axisH;
  var cv = document.createElement("canvas");
  cv.width = W; cv.height = H;
  cv.style.left = (colLeft[c] - axisW) + "px";
  cv.style.top = (rowTop[r] - padTop) + "px";
  cv.style.width = W + "px"; cv.style.height = H + "px";
  page.appendChild(cv);

  var datasets = [];
  zBlue[r].forEach(function (z) { datasets.push(vline(z, "#3030ff", 0.9, [3, 2])); });
  zRed[r].forEach(function (z) { datasets.push(vline(z, "#ee1c1c", 1.6, [])); });
  datasets.push({
    data: rowCurves[r][c].map(function (p) { return { x: p[0], y: p[1] }; }),
    borderColor: "#000", borderWidth: 1.4, pointRadius: 0, fill: false,
    cubicInterpolationMode: "monotone"
  });

  new Chart(cv, {
    type: "line",
    data: { datasets: datasets },
    options: {
      responsive: false, animation: false, devicePixelRatio: 1,
      layout: { padding: { top: padTop, right: padRight, left: 0, bottom: 0 } },
      plugins: {
        legend: { display: false }, tooltip: { enabled: false },
        panelDecor: { name: c === 0 ? objectNames[r] : null, label: sampleLabels[c] }
      },
      scales: {
        x: {
          type: "linear", min: 0, max: 3.2,
          afterBuildTicks: function (s) { s.ticks = zTicks.map(function (v) { return { value: v }; }); },
          afterFit: function (s) { s.height = axisH; },
          ticks: { font: { family: FONT, size: 11.5 }, color: "#222", maxRotation: 0, padding: 1,
            callback: function (v) { return v.toFixed(1); } },
          grid: { drawOnChartArea: false, drawTicks: true, tickLength: 4, color: "#444" },
          border: { display: false },
          title: { display: true, text: "z", color: "#111",
            font: { family: FONT, size: 16, style: "italic" }, padding: { top: 0, bottom: 6 } }
        },
        y: {
          min: 0, max: 0.02,
          afterBuildTicks: function (s) { s.ticks = pTicks.map(function (v) { return { value: v }; }); },
          afterFit: function (s) { s.width = axisW; },
          ticks: { font: { family: FONT, size: 11.5 }, color: "#222", padding: 1,
            callback: function (v) { return v.toFixed(4); } },
          grid: { drawOnChartArea: false, drawTicks: true, tickLength: 4, color: "#444" },
          border: { display: false }
        }
      }
    },
    plugins: [panelDecor]
  });
}

for (var r = 0; r < 6; r++) {
  for (var c = 0; c < 4; c++) makePanel(r, c);
}
</script>
</body>
</html>
